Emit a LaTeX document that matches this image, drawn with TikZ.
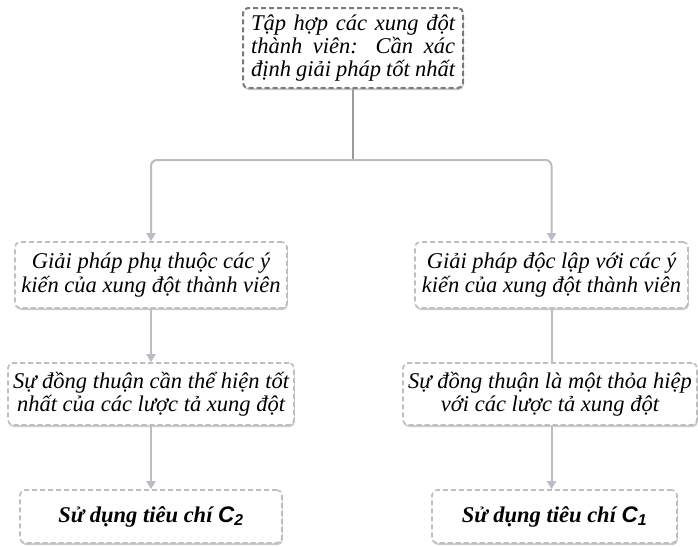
\documentclass[tikz,border=0pt]{standalone}
\usepackage{fontspec}
\setmainfont{Liberation Serif}
\newfontfamily\sansC{Liberation Sans}
\usetikzlibrary{shadows,arrows.meta,positioning}
\definecolor{bordD}{HTML}{7A7A7E}
\definecolor{bordL}{HTML}{BDBDC2}
\definecolor{lineD}{HTML}{9A9AA0}
\definecolor{lineL}{HTML}{BCBCC2}
\tikzset{
  box/.style={draw=bordL, line width=1.6pt, dash pattern=on 5pt off 3pt, rounded corners=5pt,
    fill=white, drop shadow={shadow xshift=0.8pt, shadow yshift=-2pt, opacity=0.35, fill=black!60},
    align=center, font=\fontsize{22.5}{23.5}\selectfont\itshape, inner sep=1pt},
  topbox/.style={box, draw=bordD, line width=2pt},
  endbox/.style={box, font=\fontsize{22.5}{24}\selectfont\itshape\bfseries},
  conn/.style={draw=lineL, line width=2pt, rounded corners=6pt},
  arr/.style={conn, -{Triangle[width=9pt,length=8pt,fill=lineL]}},
}
\begin{document}
\begin{tikzpicture}[x=1pt,y=-1pt]
\useasboundingbox (0,0) rectangle (698,546);
\node[topbox, minimum width=220pt, minimum height=80pt] (T) at (353,48)
  {\parbox{204pt}{\fontsize{22.5}{23}\selectfont\itshape\parfillskip=0pt Tập hợp các xung đột\linebreak thành viên: Cần xác\linebreak định giải pháp tốt nhất}};
\node[box, minimum width=272pt, minimum height=66pt] (L1) at (151,275)
  {Giải pháp phụ thuộc các ý\\ kiến của xung đột thành viên};
\node[box, minimum width=273pt, minimum height=66pt] (R1) at (551.5,275)
  {Giải pháp độc lập với các ý\\ kiến của xung đột thành viên};
\node[box, minimum width=286pt, minimum height=62pt] (L2) at (151,394)
  {Sự đồng thuận cần thể hiện tốt\\ nhất của các lược tả xung đột};
\node[box, minimum width=294pt, minimum height=62pt] (R2) at (550,394)
  {Sự đồng thuận là một thỏa hiệp\\ với các lược tả xung đột};
\node[endbox, minimum width=262pt, minimum height=53pt] (L3) at (151,516.5)
  {Sử dụng tiêu chí {\sansC\bfseries\itshape C\textsubscript{2}}};
\node[endbox, minimum width=245pt, minimum height=53pt] (R3) at (554.5,516.5)
  {Sử dụng tiêu chí {\sansC\bfseries\itshape C\textsubscript{1}}};
\coordinate (J) at (353,160);
\draw[conn, draw=lineD, line width=2.6pt, rounded corners=0pt] (T.south) -- (J);
\draw[arr] (J) -| (L1.north);
\draw[arr] (J) -| (R1.north);
\draw[arr] (L1.south) -- (L2.north);
\draw[conn] (R1.south) -- (R1.south |- R2.north);
\draw[arr] (L2.south) -- (L3.north);
\draw[arr] (R1.south |- R2.south) -- (R1.south |- R3.north);
\end{tikzpicture}
\end{document}
